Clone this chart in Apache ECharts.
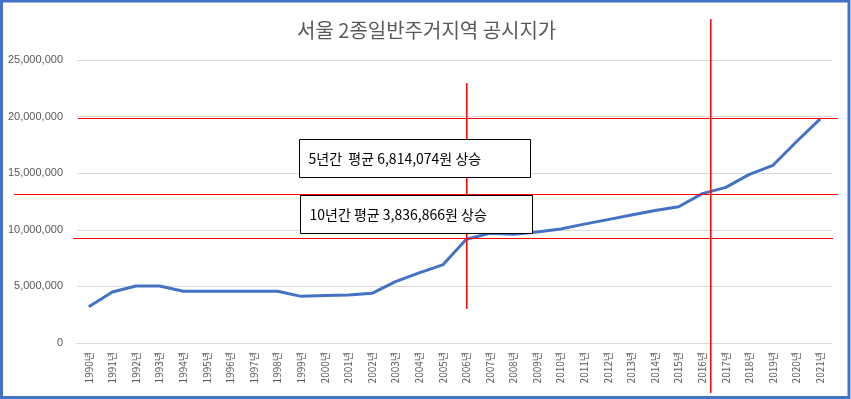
<!DOCTYPE html>
<html><head><meta charset="utf-8">
<script src="https://cdn.jsdelivr.net/npm/echarts@6/dist/echarts.min.js"></script>
<style>html,body{margin:0;padding:0;background:#fff}#c{width:851px;height:399px}</style>
</head><body><div id="c"></div>
<script>
const titleText = '서울 2종일반주거지역 공시지가';
const years = ['1990년','1991년','1992년','1993년','1994년','1995년','1996년','1997년','1998년','1999년','2000년','2001년','2002년','2003년','2004년','2005년','2006년','2007년','2008년','2009년','2010년','2011년','2012년','2013년','2014년','2015년','2016년','2017년','2018년','2019년','2020년','2021년'];
const prices = [3210000,4500000,5030000,5030000,4570000,4570000,4570000,4570000,4570000,4120000,4200000,4240000,4390000,5420000,6200000,6900000,9160000,9700000,9600000,9800000,10070000,10500000,10900000,11300000,11700000,12040000,13200000,13750000,14900000,15700000,17800000,19800000];
const yMax = 25000000;
const yStep = 5000000;
// annotation reference levels (horizontal red lines) and marked years (vertical red lines)
const refLevels = [19900000, 13150000, 9300000];
const refYears = ['2006년', '2016년'];
const notes = ['5년간  평균 6,814,074원 상승', '10년간 평균 3,836,866원 상승'];

const chart = echarts.init(document.getElementById('c'));
const font = '"Liberation Sans", Arial, sans-serif';
chart.setOption({
  animation: false,
  backgroundColor: '#fff',
  title: {
    text: titleText, left: 292, top: 15,
    textStyle: {fontFamily: '"Noto Sans CJK KR", sans-serif', fontSize: 20, fontWeight: 'normal', color: '#595959'}
  },
  grid: {left: 77, right: 19, top: 60, bottom: 56},
  xAxis: {
    type: 'category', data: years, boundaryGap: true,
    axisLine: {lineStyle: {color: '#d9d9d9'}},
    axisTick: {show: false},
    axisLabel: {rotate: 90, margin: 9, fontSize: 10, color: '#595959', fontFamily: '"Noto Sans CJK KR", ' + font, interval: 0}
  },
  yAxis: {
    type: 'value', min: 0, max: yMax, interval: yStep,
    axisLine: {show: false}, axisTick: {show: false},
    splitLine: {lineStyle: {color: '#d9d9d9', width: 1}},
    axisLabel: {margin: 14, fontSize: 11, color: '#595959', fontFamily: font,
      formatter: v => v.toLocaleString('en-US')}
  },
  series: [{
    type: 'line', data: prices, showSymbol: false, symbol: 'none',
    lineStyle: {color: '#4472C4', width: 3}, z: 3
  }]
});

const px = v => chart.convertToPixel({yAxisIndex: 0}, v);
const cx = c => chart.convertToPixel({xAxisIndex: 0}, c);
const g = [];
// horizontal lines (drawn as 1px red bars)
const hExt = [[78, 838], [14, 838], [73, 833]];
refLevels.forEach((v, i) => {
  const y = Math.round(px(v));
  g.push({type: 'rect', z: 10, shape: {x: hExt[i][0], y: y, width: hExt[i][1] - hExt[i][0], height: 1}, style: {fill: '#ff0000'}});
});
// vertical lines
const x1 = Math.round(cx(refYears[0]));
const y1a = Math.round(px(22950000)), y1b = Math.round(px(3000000));
g.push({type: 'rect', z: 10, shape: {x: x1, y: y1a, width: 1.5, height: y1b - y1a}, style: {fill: '#ff0000'}});
const x2 = Math.round(cx(refYears[1])) + 8;
g.push({type: 'rect', z: 10, shape: {x: x2, y: 19, width: 1.5, height: 374}, style: {fill: '#ff0000'}});
// text boxes
const boxes = [{x: 299.5, y: 139.5, w: 231, h: 38}, {x: 300.5, y: 195.5, w: 232, h: 38}];
boxes.forEach((b, i) => {
  g.push({type: 'rect', z: 20, shape: {x: b.x, y: b.y, width: b.w, height: b.h}, style: {fill: '#fff', stroke: '#000', lineWidth: 1}});
  g.push({type: 'text', z: 21, style: {text: notes[i], x: b.x + 9, y: b.y + b.h / 2, verticalAlign: 'middle', font: '14px "Noto Sans CJK KR", sans-serif', fill: '#000'}});
});
// frame
g.push({type: 'rect', z: 30, shape: {x: 1.5, y: 1, width: 847.5, height: 396.5}, style: {fill: null, stroke: '#4472C4', lineWidth: 3}});
chart.setOption({graphic: g});
</script>
</body></html>
